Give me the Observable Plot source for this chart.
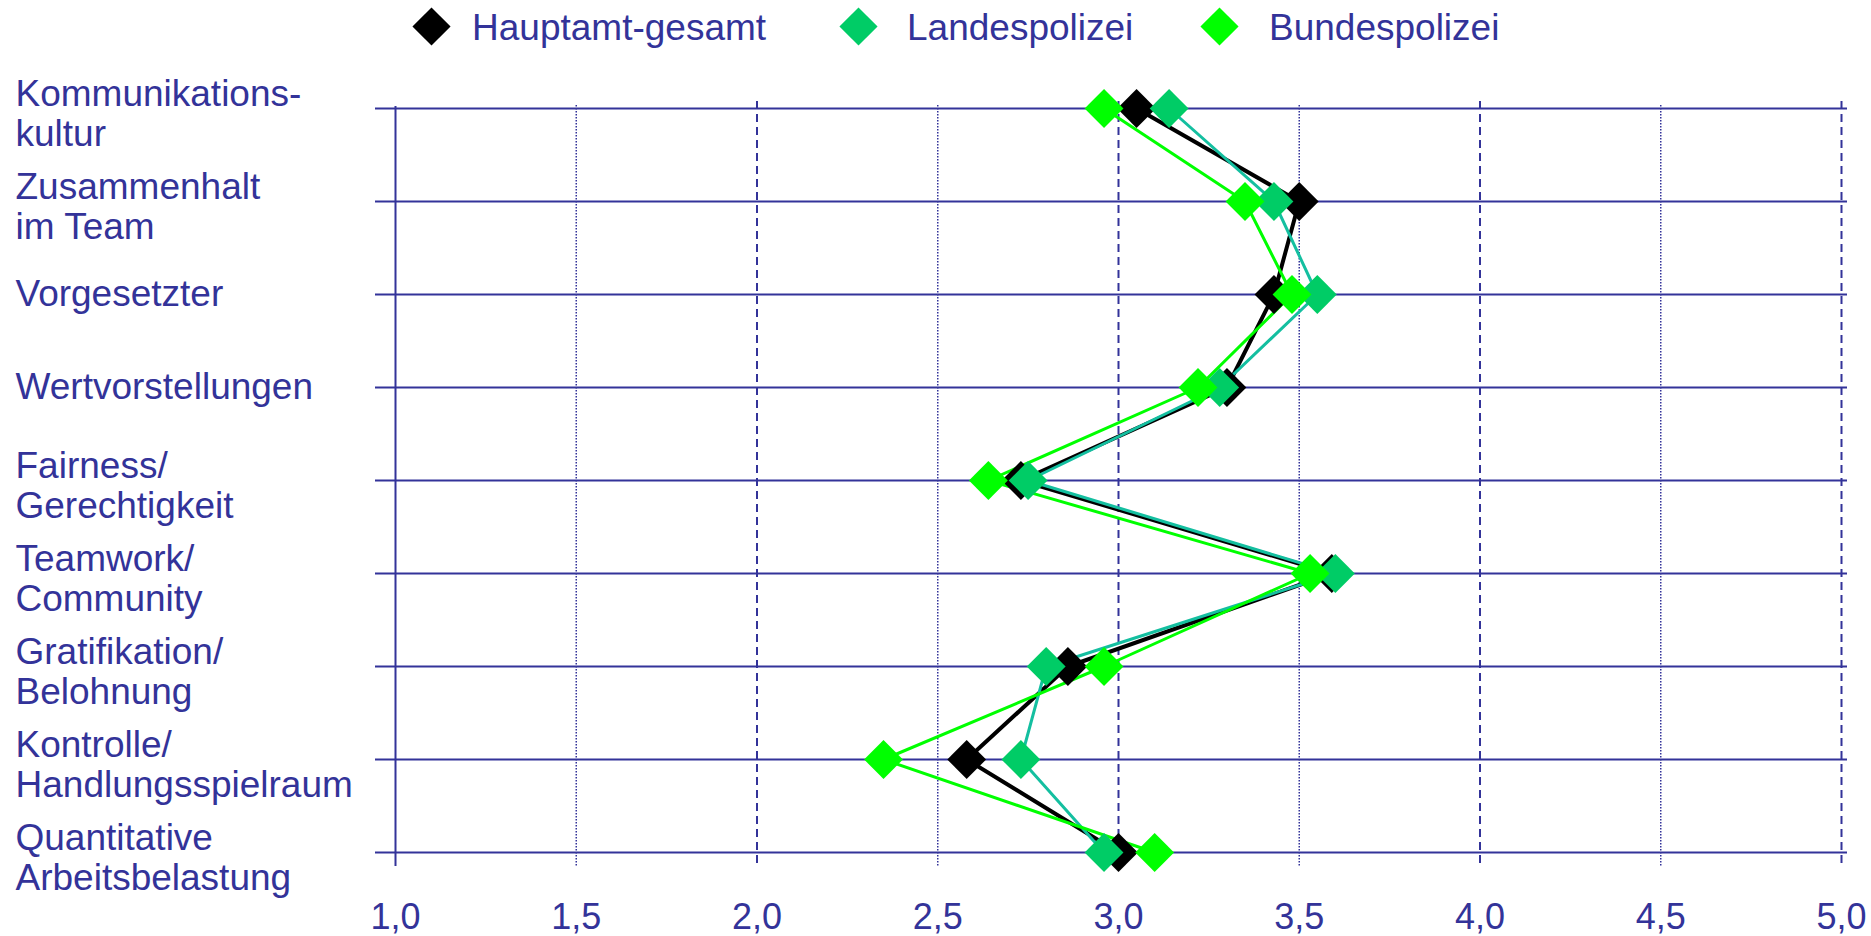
<!DOCTYPE html>
<html>
<head>
<meta charset="utf-8">
<script src="https://cdn.jsdelivr.net/npm/d3@7"></script>
<script src="https://cdn.jsdelivr.net/npm/@observablehq/plot@0.6"></script>
<style>
  html, body { margin: 0; padding: 0; background: #ffffff; }
  #wrap { position: relative; width: 1871px; height: 936px; font-family: "Liberation Sans", Arial, sans-serif; }
  .lg-sym { position: absolute; width: 27px; height: 27px; transform: rotate(45deg); }
  .lg-txt { position: absolute; font-size: 37px; line-height: 37px; color: #333399; white-space: nowrap; }
</style>
</head>
<body>
<div id="wrap"></div>
<script>
// ---- data ----
const categories = [
  "Kommunikationskultur", "Zusammenhalt im Team", "Vorgesetzter", "Wertvorstellungen",
  "Fairness/Gerechtigkeit", "Teamwork/Community", "Gratifikation/Belohnung",
  "Kontrolle/Handlungsspielraum", "Quantitative Arbeitsbelastung"
];
const categoryLabels = [
  "Kommunikations-\nkultur", "Zusammenhalt\nim Team", "Vorgesetzter", "Wertvorstellungen",
  "Fairness/\nGerechtigkeit", "Teamwork/\nCommunity", "Gratifikation/\nBelohnung",
  "Kontrolle/\nHandlungsspielraum", "Quantitative\nArbeitsbelastung"
];
const seriesNames = ["Hauptamt-gesamt", "Landespolizei", "Bundespolizei"];
const hauptamt      = [3.05, 3.50, 3.43, 3.30, 2.73, 3.59, 2.86, 2.58, 3.00];
const landespolizei = [3.14, 3.43, 3.55, 3.28, 2.75, 3.60, 2.80, 2.73, 2.96];
const bundespolizei = [2.96, 3.35, 3.48, 3.22, 2.64, 3.53, 2.96, 2.35, 3.10];
const xTicks = [1.0, 1.5, 2.0, 2.5, 3.0, 3.5, 4.0, 4.5, 5.0];

// ---- styling ----
const navy = "#333399";
const markerColors = ["#000000", "#00CC66", "#00FF00"];
const lineColors = ["#000000", "#14BFA0", "#00FF00"];
const lineWidths = [4, 3, 3];

const seriesValues = [hauptamt, landespolizei, bundespolizei];
const rowsFor = (si) => seriesValues[si].map((v, i) => ({series: seriesNames[si], category: categories[i], value: v}));
const labelRows = categories.map((c, i) => ({category: c, label: categoryLabels[i]}));
const multiLabels = labelRows.filter(d => d.label.includes("\n"));
const singleLabels = labelRows.filter(d => !d.label.includes("\n"));
const fmt = d => d.toFixed(1).replace(".", ",");

const lineMarks = [0, 1, 2].map(si => Plot.line(rowsFor(si), {
  x: "value", y: "category", stroke: lineColors[si], strokeWidth: lineWidths[si], strokeLinejoin: "miter"
}));
const dotMarks = [0, 1, 2].map(si => Plot.dot(rowsFor(si), {
  x: "value", y: "category", symbol: "diamond2", r: 17.5, fill: markerColors[si], stroke: "none"
}));

const chart = Plot.plot({
  width: 1871,
  height: 936,
  marginLeft: 395,
  marginRight: 30,
  marginTop: 107,
  marginBottom: 84,
  x: {domain: [1, 5], label: null},
  y: {type: "point", domain: categories, padding: 0, axis: null, label: null},
  style: {fontFamily: "'Liberation Sans', Arial, sans-serif", fontSize: "36px", color: navy, background: "#ffffff", overflow: "visible"},
  marks: [
    Plot.ruleX(xTicks.filter(v => v % 1 !== 0), {stroke: navy, strokeWidth: 1.5, strokeDasharray: "1.5,1.5", insetTop: -2, insetBottom: -14}),
    Plot.ruleX(xTicks.filter(v => v % 1 === 0 && v > 1), {stroke: navy, strokeWidth: 2, strokeDasharray: "8,5", insetTop: -6, insetBottom: -14}),
    Plot.ruleY(categories, {y: d => d, stroke: navy, strokeWidth: 2, insetLeft: -20, insetRight: -6}),
    Plot.ruleX([xTicks[0]], {stroke: navy, strokeWidth: 2, insetTop: -1, insetBottom: -14}),
    ...lineMarks,
    ...dotMarks,
    Plot.axisX(xTicks, {tickSize: 0, tickPadding: 51, tickFormat: fmt, fontSize: 36, fill: navy, label: null}),
    Plot.text(multiLabels, {y: "category", text: "label", frameAnchor: "left", textAnchor: "start", dx: -380, dy: 5, lineAnchor: "middle", lineHeight: 1.06, fontSize: 37, fill: navy}),
    Plot.text(singleLabels, {y: "category", text: "label", frameAnchor: "left", textAnchor: "start", dx: -380, dy: 0, lineAnchor: "middle", fontSize: 37, fill: navy})
  ]
});

const wrap = document.getElementById("wrap");
wrap.appendChild(chart);

// ---- legend (HTML, above the plot area) ----
const legendSymX = [431, 858, 1219];
const legendTxtX = [472, 907, 1269];
seriesNames.forEach((name, i) => {
  const s = document.createElement("div");
  s.className = "lg-sym";
  s.style.left = (legendSymX[i] - 13.5) + "px";
  s.style.top = (26 - 13.5) + "px";
  s.style.background = markerColors[i];
  wrap.appendChild(s);
  const t = document.createElement("div");
  t.className = "lg-txt";
  t.style.left = legendTxtX[i] + "px";
  t.style.top = "9px";
  t.textContent = name;
  wrap.appendChild(t);
});
chart.style.position = "absolute";
chart.style.left = "0px";
chart.style.top = "0px";
</script>
</body>
</html>
